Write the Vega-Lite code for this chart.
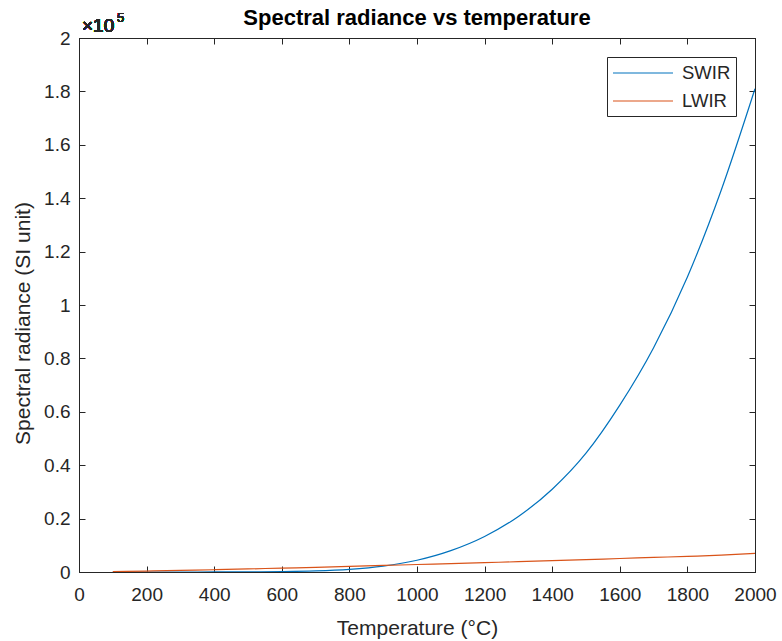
{
  "$schema": "https://vega.github.io/schema/vega-lite/v6.json",
  "autosize": {"type": "none"},
  "padding": {"left": 79, "top": 38, "right": 27, "bottom": 69},
  "width": 676,
  "height": 534,
  "background": "white",
  "title": {
    "text": "Spectral radiance vs temperature",
    "fontSize": 22,
    "fontWeight": "bold",
    "font": "Liberation Sans",
    "color": "#000000",
    "anchor": "middle",
    "frame": "group",
    "offset": 10,
    "dy": 28
  },
  "config": {
    "font": "Liberation Sans",
    "view": {"stroke": "#262626", "strokeWidth": 1},
    "axis": {
      "grid": false,
      "domainColor": "#262626",
      "tickColor": "#262626",
      "labelColor": "#262626",
      "titleColor": "#262626",
      "labelFont": "Liberation Sans",
      "titleFont": "Liberation Sans",
      "labelFontSize": 19,
      "titleFontSize": 21,
      "titleFontWeight": "normal",
      "tickSize": -6,
      "labelFlush": false,
      "labelOverlap": false
    }
  },
  "data": {
    "values": [
      {"T": 100, "series": "SWIR", "value": 0},
      {"T": 200, "series": "SWIR", "value": 0},
      {"T": 300, "series": "SWIR", "value": 1},
      {"T": 400, "series": "SWIR", "value": 10},
      {"T": 500, "series": "SWIR", "value": 40},
      {"T": 600, "series": "SWIR", "value": 140},
      {"T": 700, "series": "SWIR", "value": 400},
      {"T": 800, "series": "SWIR", "value": 1000},
      {"T": 900, "series": "SWIR", "value": 2200},
      {"T": 1000, "series": "SWIR", "value": 4400},
      {"T": 1100, "series": "SWIR", "value": 8000},
      {"T": 1200, "series": "SWIR", "value": 13300},
      {"T": 1300, "series": "SWIR", "value": 20800},
      {"T": 1400, "series": "SWIR", "value": 31000},
      {"T": 1500, "series": "SWIR", "value": 44500},
      {"T": 1600, "series": "SWIR", "value": 62500},
      {"T": 1700, "series": "SWIR", "value": 84000},
      {"T": 1800, "series": "SWIR", "value": 110500},
      {"T": 1900, "series": "SWIR", "value": 143000},
      {"T": 2000, "series": "SWIR", "value": 181000},
      {"T": 100, "series": "LWIR", "value": 150},
      {"T": 200, "series": "LWIR", "value": 350},
      {"T": 300, "series": "LWIR", "value": 600},
      {"T": 400, "series": "LWIR", "value": 850},
      {"T": 500, "series": "LWIR", "value": 1150},
      {"T": 600, "series": "LWIR", "value": 1450},
      {"T": 700, "series": "LWIR", "value": 1750},
      {"T": 800, "series": "LWIR", "value": 2100},
      {"T": 900, "series": "LWIR", "value": 2450},
      {"T": 1000, "series": "LWIR", "value": 2800},
      {"T": 1100, "series": "LWIR", "value": 3150},
      {"T": 1200, "series": "LWIR", "value": 3500},
      {"T": 1300, "series": "LWIR", "value": 3850},
      {"T": 1400, "series": "LWIR", "value": 4250},
      {"T": 1500, "series": "LWIR", "value": 4650},
      {"T": 1600, "series": "LWIR", "value": 5050},
      {"T": 1700, "series": "LWIR", "value": 5450},
      {"T": 1800, "series": "LWIR", "value": 5850},
      {"T": 1900, "series": "LWIR", "value": 6300},
      {"T": 2000, "series": "LWIR", "value": 6950}
    ]
  },
  "resolve": {"axis": {"x": "independent", "y": "independent"}},
  "layer": [
    {
      "mark": {"type": "line", "strokeWidth": 1.2, "clip": true, "interpolate": "monotone"},
      "encoding": {
        "x": {
          "field": "T",
          "type": "quantitative",
          "scale": {"domain": [0, 2000], "nice": false, "zero": false},
          "axis": {
            "orient": "bottom",
            "values": [0, 200, 400, 600, 800, 1000, 1200, 1400, 1600, 1800, 2000],
            "format": "d",
            "title": "Temperature (°C)",
            "labelPadding": 19,
            "titleBaseline": "alphabetic",
            "titleY": 62
          }
        },
        "y": {
          "field": "value",
          "type": "quantitative",
          "scale": {"domain": [0, 200000], "nice": false},
          "axis": {
            "orient": "left",
            "values": [0, 20000, 40000, 60000, 80000, 100000, 120000, 140000, 160000, 180000, 200000],
            "labelExpr": "format(datum.value / 100000, '.1~f')",
            "title": "Spectral radiance (SI unit)",
            "labelPadding": 15,
            "titleX": -56,
            "titleY": 285,
            "titleBaseline": "middle",
            "titleAngle": 270
          }
        },
        "color": {
          "field": "series",
          "type": "nominal",
          "sort": ["SWIR", "LWIR"],
          "scale": {"domain": ["SWIR", "LWIR"], "range": ["#0072BD", "#D95319"]},
          "legend": {
            "title": null,
            "orient": "top-right",
            "offset": 19,
            "fillColor": "white",
            "strokeColor": "#262626",
            "padding": 5,
            "symbolType": "M-1,0H5",
            "symbolSize": 400,
            "symbolStrokeWidth": 1.2,
            "labelFontSize": 18.5,
            "labelFont": "Liberation Sans",
            "labelColor": "#262626",
            "labelOffset": 48,
            "rowPadding": 7
          }
        }
      }
    },
    {
      "mark": {"type": "text", "text": "×10", "align": "left", "baseline": "alphabetic", "fontSize": 19, "fontWeight": "normal", "font": "Liberation Sans", "color": "#262626", "dx": 3, "dy": -6},
      "encoding": {
        "x": {
          "datum": 0,
          "type": "quantitative",
          "axis": {"orient": "top", "labels": false, "title": null, "values": [0, 200, 400, 600, 800, 1000, 1200, 1400, 1600, 1800, 2000]}
        },
        "y": {
          "datum": 200000,
          "type": "quantitative",
          "axis": {"orient": "right", "labels": false, "title": null, "values": [0, 20000, 40000, 60000, 80000, 100000, 120000, 140000, 160000, 180000, 200000]}
        }
      }
    },
    {
      "mark": {"type": "text", "text": "5", "align": "left", "baseline": "alphabetic", "fontSize": 13, "fontWeight": "normal", "font": "Liberation Sans", "color": "#262626", "dx": 38, "dy": -16},
      "encoding": {
        "x": {"datum": 0, "type": "quantitative", "axis": null},
        "y": {"datum": 200000, "type": "quantitative", "axis": null}
      }
    }
  ]
}
